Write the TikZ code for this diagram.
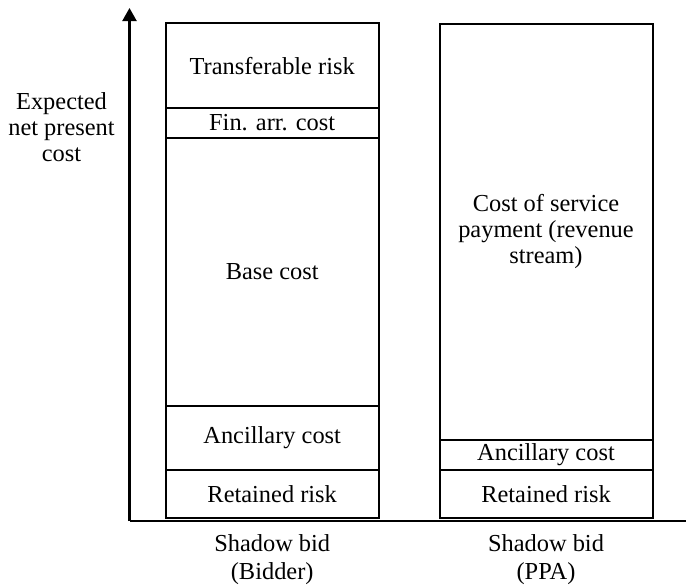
\documentclass[tikz,border=0pt]{standalone}
\usepackage{fontspec}
\setmainfont{Liberation Serif}
\usetikzlibrary{arrows.meta}
\begin{document}
\begin{tikzpicture}[x=0.5pt,y=-0.5pt,
  seg/.style={draw, line width=1pt, rectangle, inner sep=0pt,
    minimum width=106.5pt, align=center,
    font=\fontsize{12.2}{13}\selectfont},
  lbl/.style={align=center, font=\fontsize{12.2}{14}\selectfont},
  axis/.style={line width=1.1pt}]
\useasboundingbox (0,0) rectangle (686,586);

% cost stack of the bidder's shadow bid
\node[seg, minimum height=42.5pt] (trisk) at (272.2,65.75) {Transferable risk};
\node[seg, minimum height=15pt]   (fin)   at (272.2,123)   {Fin. arr. cost};
\node[seg, minimum height=134pt]  (base)  at (272.2,272)   {Base cost};
\node[seg, minimum height=32pt]   (ancA)  at (272.2,438)   {Ancillary cost};
\node[seg, minimum height=24pt]   (retA)  at (272.2,494)   {Retained risk};

% cost stack of the PPA shadow bid
\node[seg, minimum height=208.25pt] (serv) at (546,231.75) {Cost of service\\payment (revenue\\stream)};
\node[seg, minimum height=15pt]   (ancB)  at (546,455)   {Ancillary cost};
\node[seg, minimum height=24pt]   (retB)  at (546,494)   {Retained risk};

% axes
\coordinate (origin) at (129.5,521);
\coordinate (ytop) at (129.5,8);
\coordinate (xend) at (686,521);
\draw[axis, -{Triangle[width=7pt,length=6.5pt]}] (origin) -- (ytop);
\draw[axis] (origin) -- (xend);

% labels
\node[lbl, font=\fontsize{12.2}{13}\selectfont] (ylab) at (61.5,127) {Expected\\net present\\cost};
\node[lbl] (bidA) at (272.2,560) {Shadow bid\\(Bidder)};
\node[lbl] (bidB) at (546,560) {Shadow bid\\(PPA)};
\end{tikzpicture}
\end{document}
